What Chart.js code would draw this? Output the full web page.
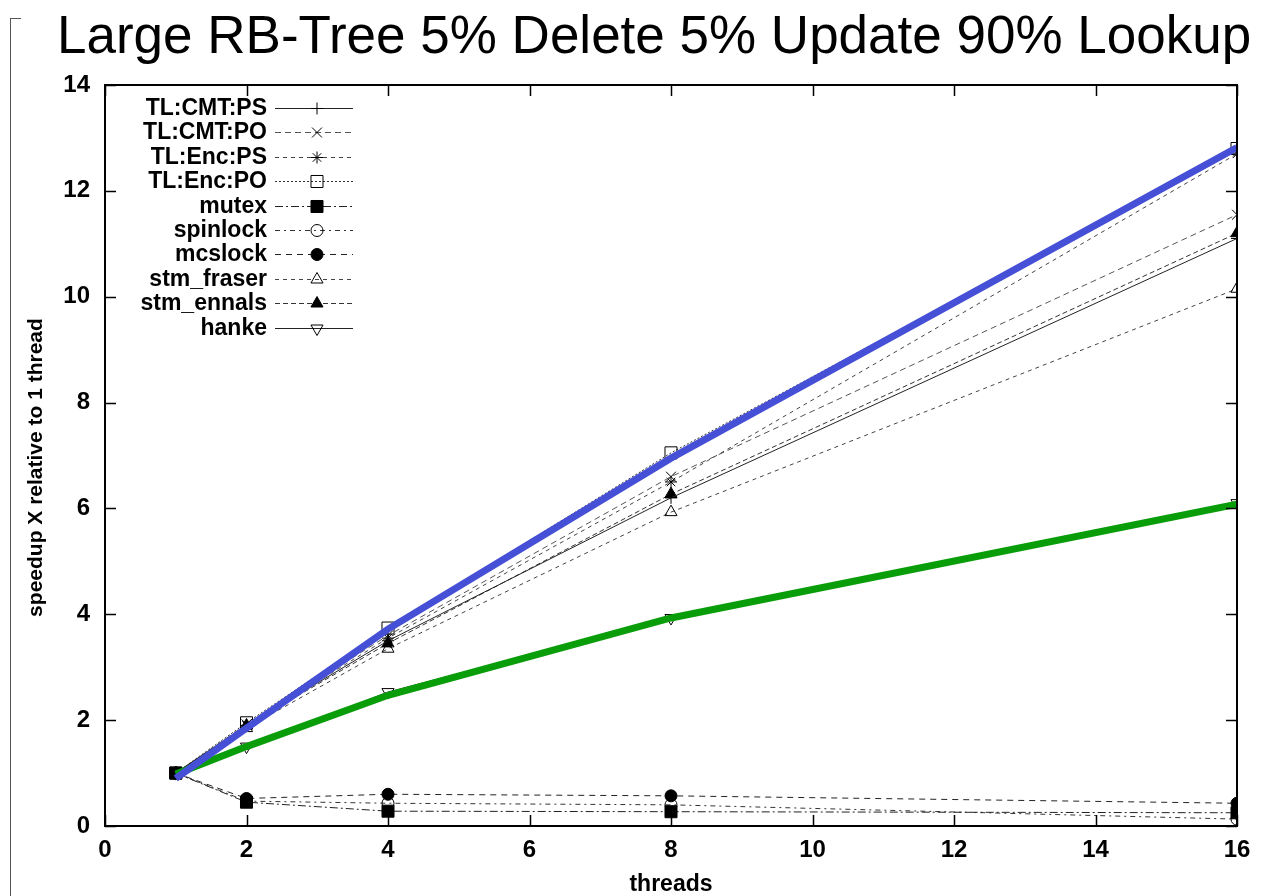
<!DOCTYPE html>
<html>
<head>
<meta charset="utf-8">
<script src="https://cdn.jsdelivr.net/npm/chart.js@4.4.0/dist/chart.umd.min.js"></script>
<style>
    html, body { margin: 0; padding: 0; background: #fff; }
    #wrap { position: relative; width: 1266px; height: 896px; overflow: hidden; }
    #frame { position: absolute; left: 10px; top: 18px; width: 10px; height: 900px;
             border-left: 1px solid #555; border-top: 1px solid #555; }
    #title { position: absolute; left: 57px; top: 8px; white-space: nowrap;
             font: 53px/53px "Liberation Sans", Arial, sans-serif; color: #000; }
    canvas { position: absolute; left: 0; top: 0; }
</style>
</head>
<body>
<div id="wrap">
    <div id="frame"></div>
    <div id="title">Large RB-Tree 5% Delete 5% Update 90% Lookup</div>
    <canvas id="chart" width="1266" height="896"></canvas>
</div>
<script>
    // ============================================================
    // DATA (speedup)
    // ============================================================
    const threads = [1, 2, 4, 8, 16];
    const xTicks = [0, 2, 4, 6, 8, 10, 12, 14, 16];
    const yTicks = [0, 2, 4, 6, 8, 10, 12, 14];
    const yTitle = 'speedup X relative to 1 thread';

    const cmtPS = [1, 1.9, 3.5, 6.2, 11.1];
    const cmtPO = [1, 1.92, 3.6, 6.6, 11.55];
    const encPS = [1, 1.9, 3.55, 6.5, 12.7];
    const encPO = [1, 1.95, 3.74, 7.05, 12.8];
    const mutex = [1, 0.45, 0.28, 0.27, 0.25];
    const spinlock = [1, 0.47, 0.43, 0.4, 0.13];
    const mcslock = [1, 0.52, 0.6, 0.57, 0.43];
    const stmFraser = [1, 1.85, 3.35, 5.93, 10.15];
    const stmEnnals = [1, 1.9, 3.45, 6.27, 11.2];
    const hanke = [1, 1.5, 2.53, 3.93, 6.1];

    // thick highlight strokes drawn over the plot
    const blueTrace = [0.9, 1.85, 3.72, 6.95, 12.82];
    const greenTrace = [0.98, 1.5, 2.47, 3.93, 6.08];

    const pts = arr => arr.map((v, i) => ({ x: threads[i], y: v }));

    const series = (label, data, style) => Object.assign({
        label: label,
        data: pts(data),
        key: true,
        borderColor: '#222',
        borderWidth: 1,
        pointBorderColor: '#000',
        pointBorderWidth: 1,
        pointBackgroundColor: 'rgba(0,0,0,0)',
        pointRadius: 6,
        tension: 0,
        fill: false
    }, style);

    const datasets = [
        { label: 'blue', data: pts(blueTrace), borderColor: '#4650d6', borderWidth: 7, pointRadius: 0, tension: 0, fill: false },
        { label: 'green', data: pts(greenTrace), borderColor: '#0a9d0a', borderWidth: 7, pointRadius: 0, tension: 0, fill: false },
        series('TL:CMT:PS', cmtPS, { pointStyle: 'cross', pointRadius: 6 }),
        series('TL:CMT:PO', cmtPO, { pointStyle: 'crossRot', pointRadius: 7, borderDash: [6, 4], borderColor: '#555' }),
        series('TL:Enc:PS', encPS, { pointStyle: 'star', pointRadius: 6, borderDash: [4, 4], borderColor: '#444' }),
        series('TL:Enc:PO', encPO, { pointStyle: 'rect', pointRadius: 8.5, borderDash: [2, 2], borderColor: '#333' }),
        series('mutex', mutex, { pointStyle: 'rect', pointRadius: 8.5, pointBackgroundColor: '#000', borderDash: [8, 3, 2, 3] }),
        series('spinlock', spinlock, { pointStyle: 'circle', pointRadius: 6, borderDash: [5, 4, 2, 4], borderColor: '#333' }),
        series('mcslock', mcslock, { pointStyle: 'circle', pointRadius: 6, pointBackgroundColor: '#000', borderDash: [6, 5] }),
        series('stm_fraser', stmFraser, { pointStyle: 'triangle', pointRadius: 7, borderDash: [4, 4], borderColor: '#444' }),
        series('stm_ennals', stmEnnals, { pointStyle: 'triangle', pointRadius: 7, pointBackgroundColor: '#000', borderDash: [5, 3], borderColor: '#333' }),
        series('hanke', hanke, { pointStyle: 'triangle', pointRotation: 180, pointRadius: 7 })
    ];

    const TICK = 11;

    // frame + inward tics on all four sides, gnuplot style
    const plotBox = {
        id: 'plotBox',
        afterDraw(chart) {
            const { ctx, chartArea: a, scales: { x, y } } = chart;
            ctx.save();
            ctx.strokeStyle = '#000';
            ctx.lineWidth = 2;
            ctx.strokeRect(a.left, a.top, a.right - a.left, a.bottom - a.top);
            ctx.lineWidth = 1.5;
            ctx.beginPath();
            x.ticks.forEach(t => {
                const px = Math.round(x.getPixelForValue(t.value)) + 0.5;
                ctx.moveTo(px, a.bottom); ctx.lineTo(px, a.bottom - TICK);
                ctx.moveTo(px, a.top); ctx.lineTo(px, a.top + TICK);
            });
            y.ticks.forEach(t => {
                const py = Math.round(y.getPixelForValue(t.value)) + 0.5;
                ctx.moveTo(a.left, py); ctx.lineTo(a.left + TICK, py);
                ctx.moveTo(a.right, py); ctx.lineTo(a.right - TICK, py);
            });
            ctx.stroke();

            // y title, rotated, sits a little below the axis middle in the original
            ctx.font = 'bold 21px "Liberation Sans", Arial, sans-serif';
            ctx.fillStyle = '#000';
            ctx.textAlign = 'center';
            ctx.textBaseline = 'alphabetic';
            ctx.translate(42, (a.top + a.bottom) / 2 + 12);
            ctx.rotate(-Math.PI / 2);
            ctx.fillText(yTitle, 0, 0);
            ctx.restore();
        }
    };

    // key in the upper left, text right aligned then sample line with marker
    const keyBox = {
        id: 'keyBox',
        afterDraw(chart) {
            const { ctx, chartArea: a } = chart;
            const textRight = a.left + 162;
            const lineFrom = a.left + 170;
            const lineTo = a.left + 248;
            const markX = a.left + 212;
            let row = 0;
            ctx.save();
            ctx.font = 'bold 23px "Liberation Sans", Arial, sans-serif';
            ctx.textAlign = 'right';
            ctx.textBaseline = 'middle';
            chart.data.datasets.forEach(ds => {
                if (!ds.key) return;
                const ry = Math.round(a.top + 23 + row * 24.4) + 0.5;
                ctx.fillStyle = '#000';
                ctx.fillText(ds.label, textRight, ry);
                ctx.strokeStyle = ds.borderColor;
                ctx.lineWidth = ds.borderWidth;
                ctx.setLineDash(ds.borderDash || []);
                ctx.beginPath();
                ctx.moveTo(lineFrom, ry);
                ctx.lineTo(lineTo, ry);
                ctx.stroke();
                ctx.setLineDash([]);
                ctx.fillStyle = ds.pointBackgroundColor;
                ctx.strokeStyle = ds.pointBorderColor;
                ctx.lineWidth = ds.pointBorderWidth;
                Chart.helpers.drawPoint(ctx, {
                    pointStyle: ds.pointStyle,
                    radius: ds.pointRadius,
                    rotation: ds.pointRotation || 0,
                    borderWidth: ds.pointBorderWidth
                }, markX, ry);
                row++;
            });
            ctx.restore();
        }
    };

    const tickFont = { family: '"Liberation Sans", Arial, sans-serif', size: 24, weight: 'bold' };

    new Chart(document.getElementById('chart'), {
        type: 'line',
        data: { datasets: datasets },
        plugins: [plotBox, keyBox],
        options: {
            responsive: false,
            animation: false,
            layout: { padding: { top: 85, right: 29, left: 0, bottom: 0 } },
            plugins: { legend: { display: false }, tooltip: { enabled: false }, title: { display: false } },
            scales: {
                x: {
                    type: 'linear', min: 0, max: 16,
                    afterFit: s => { s.height = 70; },
                    afterBuildTicks: s => { s.ticks = xTicks.map(v => ({ value: v })); },
                    grid: { display: false, drawTicks: false },
                    border: { display: false },
                    ticks: { color: '#000', font: tickFont, padding: 10 },
                    title: { display: true, text: 'threads', color: '#000', padding: 0,
                             font: { family: '"Liberation Sans", Arial, sans-serif', size: 23, weight: 'bold', lineHeight: 1 } }
                },
                y: {
                    type: 'linear', min: 0, max: 14,
                    afterFit: s => { s.width = 105; },
                    afterBuildTicks: s => { s.ticks = yTicks.map(v => ({ value: v })); },
                    grid: { display: false, drawTicks: false },
                    border: { display: false },
                    ticks: { color: '#000', font: tickFont, padding: 15 },
                    title: { display: false }
                }
            }
        }
    });
</script>
</body>
</html>
